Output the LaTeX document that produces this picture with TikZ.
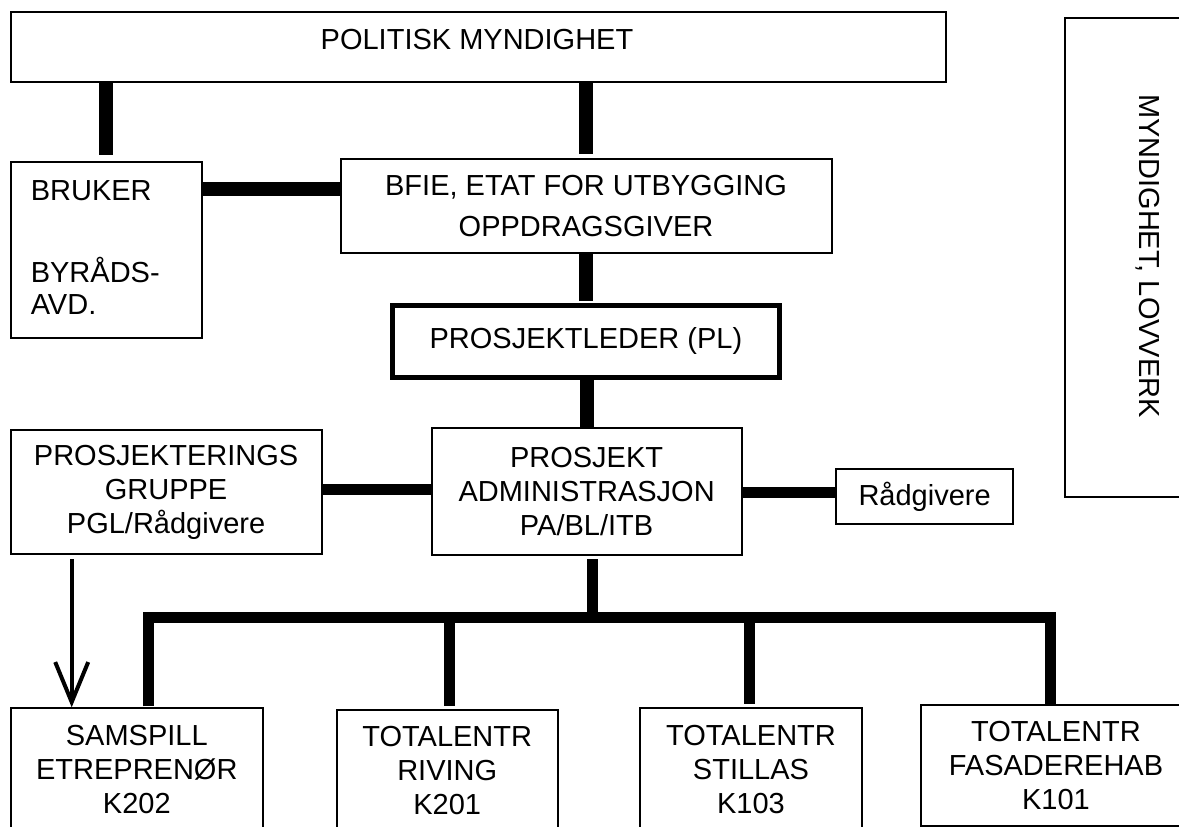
\documentclass[tikz,border=0pt]{standalone}
\usepackage{fontspec}
\setmainfont{Liberation Sans}
\usetikzlibrary{arrows.meta}
\begin{document}
\begin{tikzpicture}[x=1pt,y=-1pt,
  box/.style={draw, line width=2pt, rectangle, inner sep=0pt, align=center, font=\fontsize{29}{34}\selectfont},
  txt/.style={inner sep=0pt, font=\fontsize{29}{34}\selectfont},
  conn/.style={line width=14pt},
  connb/.style={line width=11pt}]
\useasboundingbox (0,0) rectangle (1179,827);
\clip (0,0) rectangle (1179,827);
\fill[white] (0,0) rectangle (1179,827);

% boxes
\node[box, minimum width=935pt, minimum height=69.7pt] (pm) at (478.2,46.9) {};
\node[txt] (pmt) at (477,39.3) {POLITISK MYNDIGHET};

\node[box, minimum width=191.4pt, minimum height=176.6pt] (bruker) at (106.3,250) {};
\node[txt, anchor=north west, align=left, font=\fontsize{29}{31.5}\selectfont] (brukert) at (30.6,180) {BRUKER\\[51.3pt]BYRÅDS-\\AVD.};

\node[box, minimum width=491pt, minimum height=94.6pt, font=\fontsize{29}{41.6}\selectfont] (bfie) at (586,206) {BFIE, ETAT FOR UTBYGGING\\OPPDRAGSGIVER};

\node[box, line width=5pt, minimum width=386.7pt, minimum height=72.3pt] (pl) at (585.9,341.4) {PROSJEKTLEDER (PL)};

\node[box, minimum width=311pt, minimum height=123.7pt] (pg) at (166.1,492.2) {PROSJEKTERINGS\\GRUPPE\\PGL/Rådgivere};

\node[box, minimum width=310.2pt, minimum height=126.7pt] (pa) at (586.6,491.7) {PROSJEKT\\ADMINISTRASJON\\PA/BL/ITB};

\node[box, minimum width=177.5pt, minimum height=54.7pt] (rad) at (924.6,496.7) {Rådgivere};

\node[box, minimum width=170pt, minimum height=478.4pt] (myn) at (1150,257.5) {};
\node[txt, rotate=-90] (mynt) at (1148,256) {MYNDIGHET, LOVVERK};

\node[box, minimum width=252.4pt, minimum height=123.4pt] (sam) at (136.8,770) {SAMSPILL\\ETREPRENØR\\K202};
\node[box, minimum width=221.1pt, minimum height=121.6pt] (riv) at (447.2,770.5) {TOTALENTR\\RIVING\\K201};
\node[box, minimum width=221.5pt, minimum height=124pt] (sti) at (751,769.7) {TOTALENTR\\STILLAS\\K103};
\node[box, minimum width=270pt, minimum height=121.4pt] (fas) at (1056,765.7) {TOTALENTR\\FASADEREHAB\\K101};

% column / row coordinates
\coordinate (x1) at (106,0);
\coordinate (x2) at (586,0);
\coordinate (x3) at (587,0);
\coordinate (x4) at (592,0);
\coordinate (xs) at (148.7,0);
\coordinate (xr) at (449.7,0);
\coordinate (xt) at (749.6,0);
\coordinate (xf) at (1050,0);
\coordinate (xa) at (71.7,0);
\coordinate (y1) at (0,189);
\coordinate (y2) at (0,489.5);
\coordinate (y3) at (0,492.5);
\coordinate (bus) at (0,617);

% connectors
\draw[conn, shorten >=6pt] (pm.south -| x1) -- (bruker.north -| x1);
\draw[conn, shorten >=3.5pt] (pm.south -| x2) -- (bfie.north -| x2);
\draw[conn] (bruker.east |- y1) -- (bfie.west |- y1);
\draw[conn, shorten >=2pt] (bfie.south -| x2) -- (pl.north -| x2);
\draw[conn] (pl.south -| x3) -- (pa.north -| x3);
\draw[connb] (pg.east |- y2) -- (pa.west |- y2);
\draw[connb] (pa.east |- y3) -- (rad.west |- y3);
\draw[connb, shorten <=3pt] (pa.south -| x4) -- (bus -| x4);
\draw[connb, line join=miter, shorten <=1pt] (sam.north -| xs) -- (bus -| xs) -- (bus -| xf) -- (fas.north -| xf);
\draw[connb, shorten >=2.5pt] (bus -| xr) -- (riv.north -| xr);
\draw[connb, shorten >=3pt] (bus -| xt) -- (sti.north -| xt);
\draw[line width=4pt, shorten <=4pt, -{Straight Barb[length=40pt, width=33pt, line width=4pt]}] (pg.south -| xa) -- (sam.north -| xa);
\end{tikzpicture}
\end{document}
